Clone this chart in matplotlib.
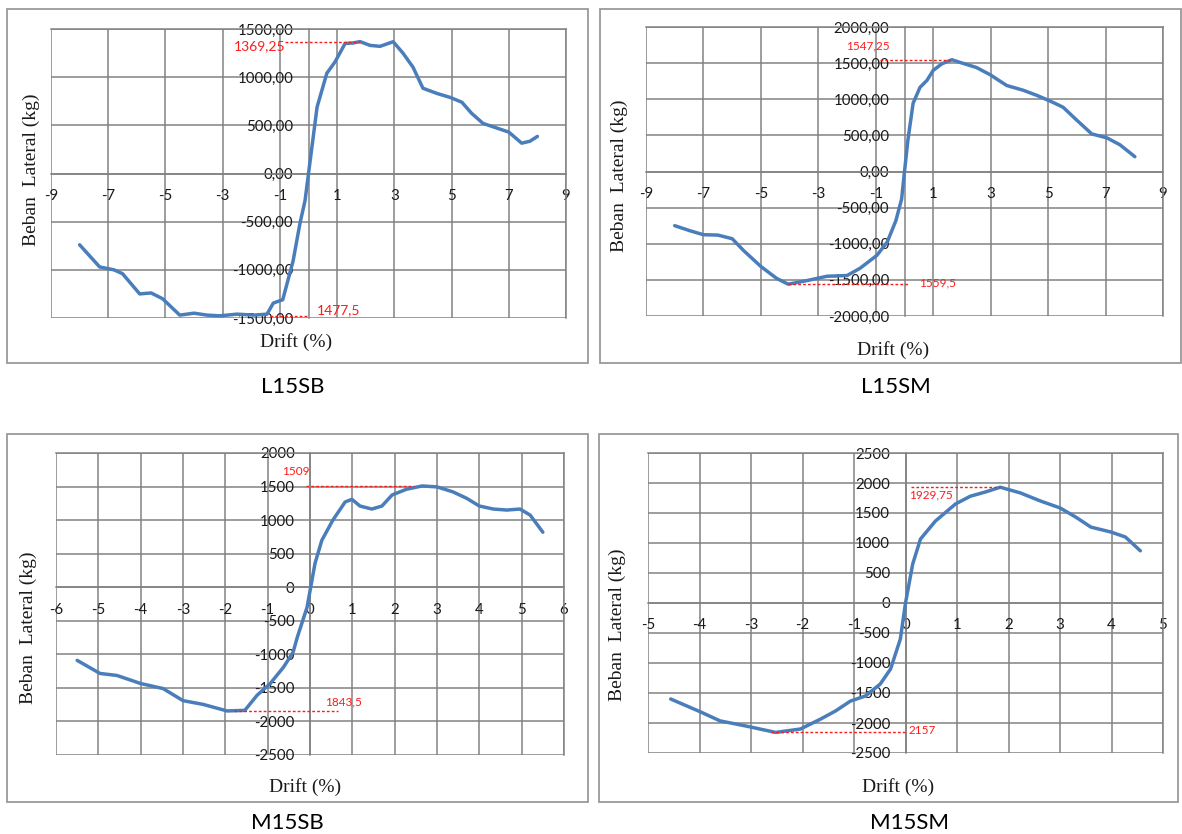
import matplotlib
matplotlib.use('Agg')
import matplotlib.pyplot as plt
from matplotlib.patches import Rectangle

# ---------------- data ----------------
L15SB_x = [-8.0, -7.3, -6.8, -6.5, -5.9, -5.5, -5.1, -4.5, -4.0, -3.55, -3.1, -2.5, -1.9, -1.45,
           -1.23, -0.9, -0.54, -0.3, -0.12, 0.0, 0.3, 0.64, 0.93, 1.28, 1.56, 1.8, 2.15, 2.5, 2.96,
           3.3, 3.65, 4.0, 4.5, 4.95, 5.36, 5.7, 6.1, 6.6, 7.0, 7.45, 7.74, 8.0]
L15SB_y = [-740, -970, -1000, -1040, -1250, -1240, -1300, -1470, -1450, -1470, -1477.5, -1460, -1470,
           -1460, -1345, -1310, -910, -520, -280, 0, 690, 1040, 1160, 1350, 1355, 1369.25, 1330, 1320,
           1368, 1250, 1105, 885, 830, 790, 740, 625, 520, 470, 430, 315, 335, 385]

L15SM_x = [-8.0, -7.47, -7.0, -6.5, -6.0, -5.6, -5.0, -4.45, -4.05, -3.4, -2.7, -2.0, -1.55, -0.96,
           -0.6, -0.3, -0.1, 0.0, 0.12, 0.3, 0.54, 0.78, 1.0, 1.3, 1.65, 1.93, 2.5, 2.98, 3.56, 4.13,
           4.6, 5.07, 5.52, 6.0, 6.52, 7.05, 7.5, 8.02]
L15SM_y = [-750, -820, -875, -880, -930, -1095, -1315, -1480, -1559.5, -1510, -1450, -1440, -1340,
           -1160, -975, -680, -380, 0, 440, 945, 1165, 1260, 1400, 1490, 1547.25, 1510, 1440, 1340,
           1190, 1125, 1055, 975, 890, 710, 520, 465, 370, 205]

M15SB_x = [-5.5, -4.96, -4.56, -4.0, -3.47, -3.0, -2.53, -1.96, -1.54, -1.25, -0.94, -0.63, -0.4,
           -0.3, -0.07, 0.12, 0.28, 0.54, 0.83, 0.99, 1.18, 1.46, 1.7, 1.94, 2.28, 2.65, 3.0, 3.38,
           3.7, 4.0, 4.33, 4.65, 4.96, 5.2, 5.5]
M15SB_y = [-1090, -1285, -1315, -1435, -1510, -1690, -1745, -1843.5, -1835, -1610, -1435, -1195,
           -970, -745, -300, 360, 700, 1000, 1270, 1310, 1210, 1165, 1210, 1375, 1460, 1509, 1495,
           1420, 1325, 1210, 1165, 1150, 1165, 1075, 820]

M15SM_x = [-4.56, -3.98, -3.6, -3.1, -2.52, -2.04, -1.65, -1.36, -1.07, -0.78, -0.49, -0.29, -0.1,
           0.0, 0.14, 0.29, 0.58, 0.97, 1.26, 1.55, 1.84, 2.23, 2.62, 3.0, 3.3, 3.6, 3.98, 4.27, 4.56]
M15SM_y = [-1600, -1815, -1965, -2050, -2157, -2100, -1935, -1800, -1635, -1550, -1350, -1100, -600,
           0, 650, 1065, 1365, 1650, 1780, 1850, 1929.75, 1835, 1700, 1585, 1435, 1265, 1185, 1100, 870]

# tick values / labels
L_xticks = [-9, -7, -5, -3, -1, 1, 3, 5, 7, 9]
L_xticklabels = ['-9', '-7', '-5', '-3', '-1', '1', '3', '5', '7', '9']
L15SB_yticks = [-1500, -1000, -500, 0, 500, 1000, 1500]
L15SB_yticklabels = ['-1500,00', '-1000,00', '-500,00', '0,00', '500,00', '1000,00', '1500,00']
L15SM_yticks = [-2000, -1500, -1000, -500, 0, 500, 1000, 1500, 2000]
L15SM_yticklabels = ['-2000,00', '-1500,00', '-1000,00', '-500,00', '0,00', '500,00', '1000,00',
                     '1500,00', '2000,00']
M15SB_xticks = [-6, -5, -4, -3, -2, -1, 0, 1, 2, 3, 4, 5, 6]
M15SB_xticklabels = ['-6', '-5', '-4', '-3', '-2', '-1', '0', '1', '2', '3', '4', '5', '6']
M15SB_yticks = [-2500, -2000, -1500, -1000, -500, 0, 500, 1000, 1500, 2000]
M15SB_yticklabels = ['-2500', '-2000', '-1500', '-1000', '-500', '0', '500', '1000', '1500', '2000']
M15SM_xticks = [-5, -4, -3, -2, -1, 0, 1, 2, 3, 4, 5]
M15SM_xticklabels = ['-5', '-4', '-3', '-2', '-1', '0', '1', '2', '3', '4', '5']
M15SM_yticks = [-2500, -2000, -1500, -1000, -500, 0, 500, 1000, 1500, 2000, 2500]
M15SM_yticklabels = ['-2500', '-2000', '-1500', '-1000', '-500', '0', '500', '1000', '1500',
                     '2000', '2500']

captions = ['L15SB', 'L15SM', 'M15SB', 'M15SM']
peak_labels = ['1369,25', '1547,25', '1509', '1929,75']
peak_values = [1369.25, 1547.25, 1509, 1929.75]
min_labels = ['1477,5', '1559,5', '1843,5', '2157']
min_values = [-1477.5, -1559.5, -1843.5, -2157]

ylabel_text = 'Beban  Lateral (kg)'
xlabel_text = 'Drift (%)'

# ---------------- style ----------------
W, H = 1182, 834
BLUE = '#4a7ebb'
GRID = '#828282'
BOX = '#9a9a9a'
RED = '#ff1a1a'
SANS = ['Lato', 'DejaVu Sans']
SERIF = ['Liberation Serif', 'DejaVu Serif']

fig = plt.figure(figsize=(W / 100, H / 100), dpi=100)


def frect(x0, y0, x1, y1):
    return [x0 / W, 1 - y1 / H, (x1 - x0) / W, (y1 - y0) / H]


panels = [
    dict(x=L15SB_x, y=L15SB_y, xl=(-9, 9), yl=(-1500, 1500), xt=L_xticks, xtl=L_xticklabels,
         yt=L15SB_yticks, ytl=L15SB_yticklabels, plot=(51, 29, 566, 318), box=(7, 9, 588, 363),
         ylab=(31, 170), xlab=(296, 342), cap=(293, 387),
         pk_line=(-0.82, 1.8), pk_text=(-0.82, 1323, 'right', 10),
         mn_line=(-1.35, -0.05), mn_text=(0.3, -1420, 'left', 10)),
    dict(x=L15SM_x, y=L15SM_y, xl=(-9, 9), yl=(-2000, 2000), xt=L_xticks, xtl=L_xticklabels,
         yt=L15SM_yticks, ytl=L15SM_yticklabels, plot=(646, 27, 1163, 316), box=(600, 9, 1181, 363),
         ylab=(619, 176), xlab=(893, 350), cap=(896, 387),
         pk_line=(-0.85, 1.58), pk_text=(-0.5, 1740, 'right', 8.5),
         mn_line=(-4.06, 0.12), mn_text=(0.5, -1548, 'left', 8.5)),
    dict(x=M15SB_x, y=M15SB_y, xl=(-6, 6), yl=(-2500, 2000), xt=M15SB_xticks, xtl=M15SB_xticklabels,
         yt=M15SB_yticks, ytl=M15SB_yticklabels, plot=(56, 453, 564, 755), box=(7, 434, 588, 802),
         ylab=(28, 628), xlab=(305, 787), cap=(287, 823),
         pk_line=(-0.1, 2.46), pk_text=(-0.66, 1717, 'left', 8.5),
         mn_line=(-1.8, 0.66), mn_text=(0.35, -1702, 'left', 8.5)),
    dict(x=M15SM_x, y=M15SM_y, xl=(-5, 5), yl=(-2500, 2500), xt=M15SM_xticks, xtl=M15SM_xticklabels,
         yt=M15SM_yticks, ytl=M15SM_yticklabels, plot=(648, 453, 1163, 753), box=(599, 434, 1178, 802),
         ylab=(617, 625), xlab=(898, 787), cap=(910, 823),
         pk_line=(0.1, 1.84), pk_text=(0.06, 1800, 'left', 8.5),
         mn_line=(-2.62, 0.0), mn_text=(0.06, -2133, 'left', 8.5)),
]

for i, p in enumerate(panels):
    bx0, by0, bx1, by1 = p['box']
    fig.add_artist(Rectangle((bx0 / W, 1 - by1 / H), (bx1 - bx0) / W, (by1 - by0) / H,
                             transform=fig.transFigure, fill=False, ec=BOX, lw=1.3))
    ax = fig.add_axes(frect(*p['plot']))
    ax.set_facecolor('none')
    ax.plot(p['x'], p['y'], color=BLUE, lw=2.5, solid_joinstyle='round',
            solid_capstyle='round', zorder=4)
    ax.set_xlim(*p['xl'])
    ax.set_ylim(*p['yl'])
    ax.set_xticks(p['xt'])
    ax.set_xticklabels(p['xtl'])
    ax.set_yticks(p['yt'])
    ax.set_yticklabels(p['ytl'])
    ax.grid(True, color=GRID, lw=1.1)
    ax.set_axisbelow(True)
    for s in ['left', 'bottom']:
        ax.spines[s].set_position(('data', 0))
    for s in ax.spines.values():
        s.set_color(GRID)
        s.set_linewidth(1.1)
    ax.tick_params(length=0, pad=11, labelsize=10.8, labelcolor='#1a1a1a')
    for lab in ax.get_xticklabels() + ax.get_yticklabels():
        lab.set_fontfamily(SANS)
    # red annotations
    ax.plot(list(p['pk_line']), [peak_values[i], peak_values[i]], color=RED, lw=1.0,
            ls=(0, (2, 1.5)), zorder=5)
    ax.plot(list(p['mn_line']), [min_values[i], min_values[i]], color=RED, lw=1.0,
            ls=(0, (2, 1.5)), zorder=5)
    tx, ty, tha, tfs = p['pk_text']
    ax.text(tx, ty, peak_labels[i], color=RED, fontsize=tfs, ha=tha, va='center',
            family=SANS, zorder=6)
    tx, ty, tha, tfs = p['mn_text']
    ax.text(tx, ty, min_labels[i], color=RED, fontsize=tfs, ha=tha, va='center',
            family=SANS, zorder=6)
    # axis titles and captions
    fig.text(p['ylab'][0] / W, 1 - p['ylab'][1] / H, ylabel_text, rotation=90, ha='center',
             va='center', fontsize=14, family=SERIF, color='#1a1a1a')
    fig.text(p['xlab'][0] / W, 1 - p['xlab'][1] / H, xlabel_text, ha='center', va='center',
             fontsize=14, family=SERIF, color='#1a1a1a')
    fig.text(p['cap'][0] / W, 1 - p['cap'][1] / H, captions[i], ha='center', va='center',
             fontsize=16, family=SANS, color='#000000')

fig.savefig('out.png', dpi=100)
